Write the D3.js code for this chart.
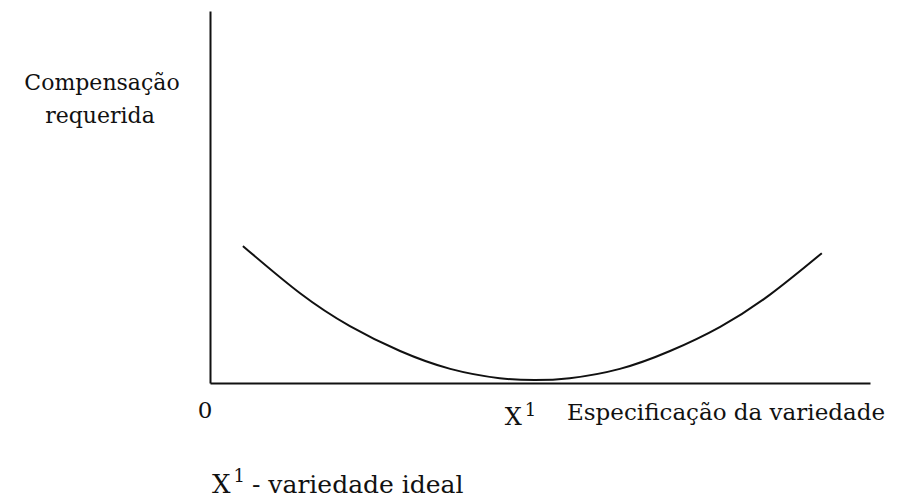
<!DOCTYPE html>
<html>
<head>
<meta charset="utf-8">
<script src="https://cdn.jsdelivr.net/npm/d3@7"></script>
<style>
  body { margin: 0; background: #fff; }
  text { font-family: "DejaVu Serif", serif; fill: #111; }
</style>
</head>
<body>
<div id="chart"></div>
<script>
// curve (x: specification, y: compensation), 0-100 units
const specX = [5, 13.6, 21.2, 28.8, 36.4, 43.9, 49.2, 54.5, 62.1, 69.7, 77.3, 84.8, 92.7];
const compY = [36.8, 24.2, 15.3, 8.6, 3.8, 1.3, 0.8, 1.3, 3.8, 8.6, 15.1, 23.7, 34.9];
const idealX = 49.2;
const yLabel = ['Compensação', 'requerida'];
const xLabel = 'Especificação da variedade';
const noteLabel = '- variedade ideal';

const margin = { top: 11, right: 36, bottom: 121, left: 210 },
    width = 906 - margin.left - margin.right,
    height = 504 - margin.top - margin.bottom;

const svg = d3.select('#chart')
    .append('svg')
    .attr('width', 906)
    .attr('height', 504)
    .append('g')
    .attr('transform', 'translate(' + margin.left + ',' + margin.top + ')');

const xScale = d3.scaleLinear().domain([0, 100]).range([0, width]);
const yScale = d3.scaleLinear().domain([0, 100]).range([height, 0]);

// axes, drawn as bare lines
svg.append('g')
    .attr('transform', 'translate(0,' + height + ')')
    .call(d3.axisBottom(xScale).ticks(0).tickSizeOuter(0))
    .select('.domain')
    .attr('stroke', '#111')
    .attr('stroke-width', 2);

svg.append('g')
    .call(d3.axisLeft(yScale).ticks(0).tickSizeOuter(0))
    .select('.domain')
    .attr('stroke', '#111')
    .attr('stroke-width', 2);

const points = specX.map((x, i) => [x, compY[i]]);
const line = d3.line()
    .x(d => xScale(d[0]))
    .y(d => yScale(d[1]))
    .curve(d3.curveNatural);

svg.append('path')
    .datum(points)
    .attr('d', line)
    .attr('fill', 'none')
    .attr('stroke', '#111')
    .attr('stroke-width', 2);

// labels
svg.append('text')
    .attr('x', -108)
    .attr('y', 79)
    .attr('text-anchor', 'middle')
    .style('font-size', '22px')
    .text(yLabel[0]);

svg.append('text')
    .attr('x', -110)
    .attr('y', 112)
    .attr('text-anchor', 'middle')
    .style('font-size', '22px')
    .text(yLabel[1]);

svg.append('text')
    .attr('x', -5)
    .attr('y', height + 35)
    .attr('text-anchor', 'middle')
    .style('font-size', '23px')
    .text('0');

const xl = svg.append('text')
    .attr('x', xScale(idealX) - 30)
    .attr('y', height + 42)
    .style('font-size', '24px');
xl.append('tspan').text('X');
xl.append('tspan').attr('dy', -9).attr('dx', 3).style('font-size', '18px').text('1');

svg.append('text')
    .attr('x', 357)
    .attr('y', height + 37)
    .style('font-size', '23px')
    .text(xLabel);

const note = svg.append('text')
    .attr('x', 2)
    .attr('y', height + 110)
    .style('font-size', '26px');
note.append('tspan').text('X');
note.append('tspan').attr('dy', -11).attr('dx', 3).style('font-size', '18px').text('1');
note.append('tspan').attr('dy', 11).attr('dx', 7).style('font-size', '25px').text(noteLabel);
</script>
</body>
</html>
